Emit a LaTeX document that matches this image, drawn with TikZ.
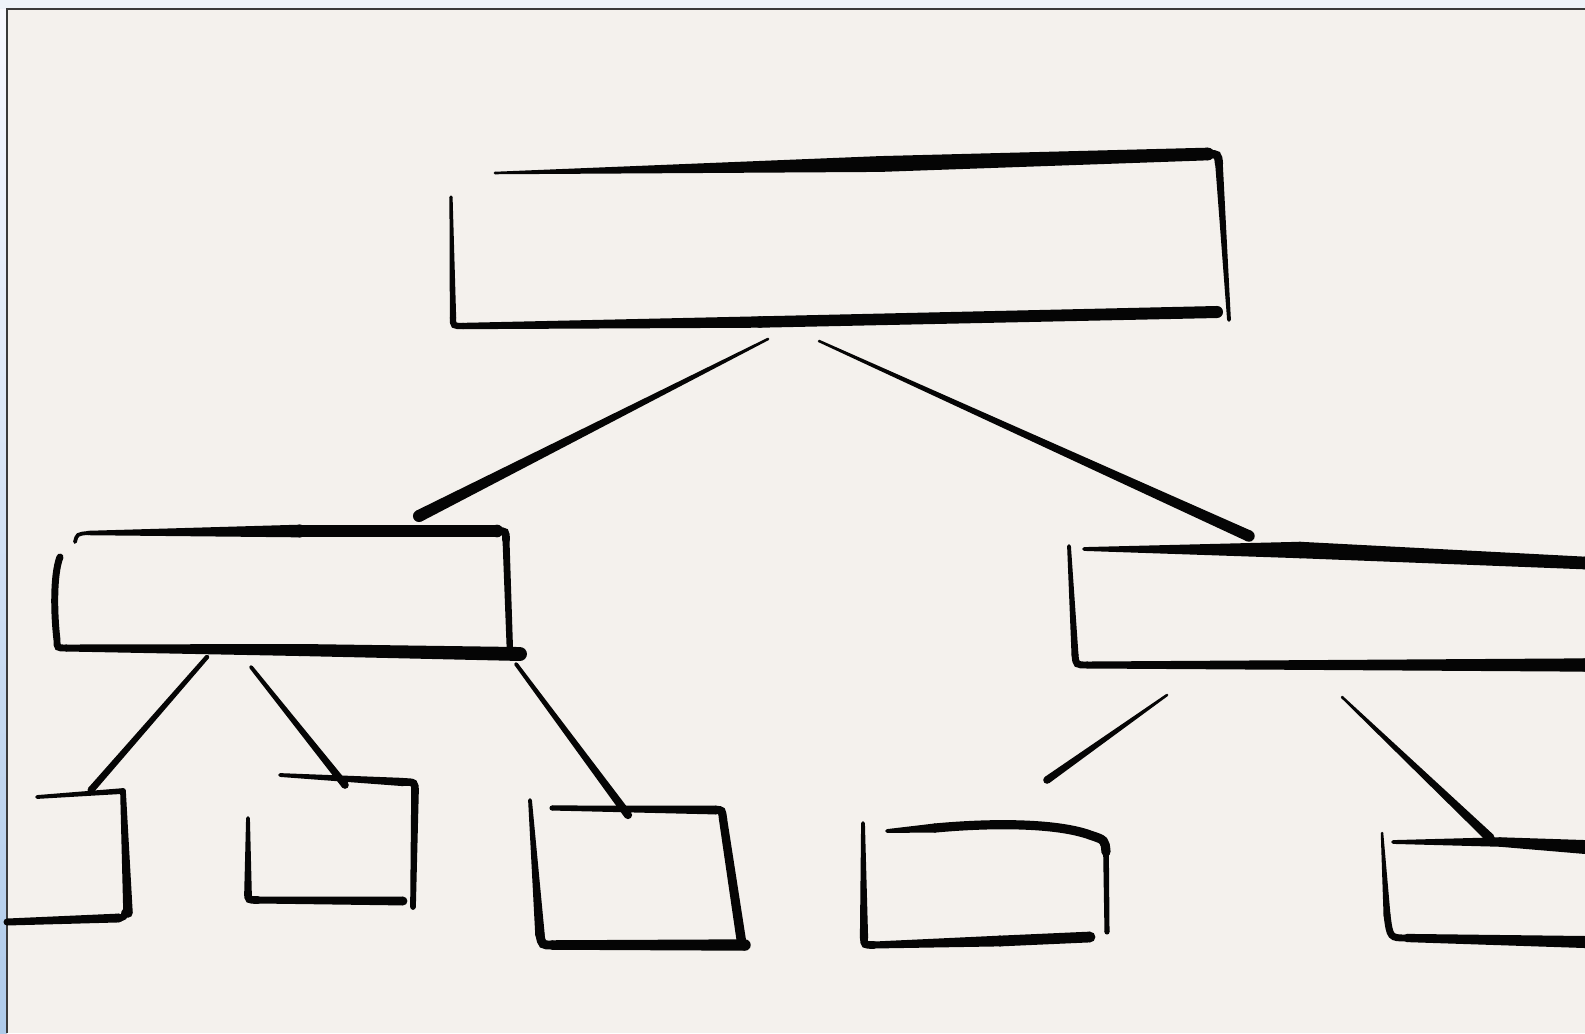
\documentclass[tikz,border=0pt]{standalone}
\usetikzlibrary{calc}
\definecolor{ink}{HTML}{050505}
\definecolor{paper}{HTML}{F4F1ED}
\definecolor{outer}{HTML}{EEF3F9}
\definecolor{framec}{HTML}{3A3A3A}
\def\ws{1.8}
\newcommand\stroke[4]{%
  \fill[ink] ($#1!\ws*#3!90:#2$) -- ($#2!\ws*#4!-90:#1$) -- ($#2!\ws*#4!90:#1$) -- ($#1!\ws*#3!-90:#2$) -- cycle;
  \fill[ink] #1 circle[radius=\ws*#3];
  \fill[ink] #2 circle[radius=\ws*#4];}
\tikzset{corner/.style={draw=ink, line width=\ws*#1, line cap=round}}
\begin{document}
\begin{tikzpicture}[x=0.01cm,y=-0.01cm]
\useasboundingbox (0,0) rectangle (1585,1033);
% background and frame
\fill[outer] (0,0) rectangle (1585,1033);
\shade[top color=outer!80!blue!10, bottom color={rgb,255:red,175;green,203;blue,234}] (0,9) rectangle (7,1033);
\fill[paper] (7,9) rectangle (1585,1033);
\draw[framec, line width=0.6pt] (7,1033) -- (7,9) -- (1585,9);

% ---------- top box ----------
\coordinate (t-tl) at (495,173);
\coordinate (t-tm) at (880,164);
\coordinate (t-tr) at (1208,154);
\coordinate (t-rc) at (1219,164);
\coordinate (t-rb) at (1229,320);
\coordinate (t-lt) at (451,197);
\coordinate (t-lb) at (453,318);
\coordinate (t-bl) at (463,326);
\coordinate (t-bm) at (760,322);
\coordinate (t-br) at (1217,312);
\stroke{(t-tl)}{(t-tm)}{0.2pt}{1.25pt}
\stroke{(t-tm)}{(t-tr)}{1.25pt}{1.0pt}
\draw[corner=1.3pt] (t-tr) .. controls (1218,154) .. (t-rc);
\stroke{(t-rc)}{(t-rb)}{0.6pt}{0.3pt}
\stroke{(t-lt)}{(t-lb)}{0.25pt}{0.5pt}
\draw[corner=1.0pt] (t-lb) .. controls (453,326) .. (t-bl);
\stroke{(t-bl)}{(t-bm)}{0.5pt}{0.9pt}
\stroke{(t-bm)}{(t-br)}{0.9pt}{0.95pt}

% ---------- connectors from top box ----------
\coordinate (t-c1) at (768,339);
\coordinate (l-c)  at (419,516);
\coordinate (t-c2) at (819,341);
\coordinate (r-c)  at (1249,536);
\stroke{(t-c1)}{(l-c)}{0.2pt}{0.95pt}
\stroke{(t-c2)}{(r-c)}{0.2pt}{0.9pt}

% ---------- left middle box ----------
\coordinate (l-h)  at (75,542);
\coordinate (l-tl) at (88,533);
\coordinate (l-tm) at (300,531);
\coordinate (l-tr) at (497,531);
\coordinate (l-rt) at (506,540);
\coordinate (l-rb) at (510,653);
\coordinate (l-lt) at (60,557);
\coordinate (l-lb) at (57,640);
\coordinate (l-bl) at (66,648);
\coordinate (l-bm) at (300,650);
\coordinate (l-br) at (520,654);
\draw[corner=0.6pt] (l-h) .. controls (77,534) .. (l-tl);
\stroke{(l-tl)}{(l-tm)}{0.35pt}{1.0pt}
\stroke{(l-tm)}{(l-tr)}{1.0pt}{1.0pt}
\draw[corner=1.2pt] (l-tr) .. controls (506,531) .. (l-rt);
\stroke{(l-rt)}{(l-rb)}{0.55pt}{0.5pt}
\draw[corner=1.1pt] (l-lt) .. controls (53,575) and (54,615) .. (l-lb) .. controls (57,648) .. (l-bl);
\stroke{(l-bl)}{(l-bm)}{0.55pt}{0.95pt}
\stroke{(l-bm)}{(l-br)}{0.95pt}{1.1pt}

% ---------- right middle box ----------
\coordinate (r-tl) at (1084,549);
\coordinate (r-tm) at (1300,550);
\coordinate (r-tr) at (1585,563);
\coordinate (r-lt) at (1069,546);
\coordinate (r-lb) at (1075,655);
\coordinate (r-bl) at (1087,665);
\coordinate (r-br) at (1585,665);
\stroke{(r-tl)}{(r-tm)}{0.3pt}{1.3pt}
\stroke{(r-tm)}{(r-tr)}{1.3pt}{1.0pt}
\stroke{(r-lt)}{(r-lb)}{0.3pt}{0.55pt}
\draw[corner=1.1pt] (r-lb) .. controls (1076,665) .. (r-bl);
\stroke{(r-bl)}{(r-br)}{0.55pt}{1.05pt}

% ---------- connectors from middle boxes ----------
\coordinate (l-c1) at (207,657);
\coordinate (b1-c) at (91,790);
\coordinate (l-c2) at (251,667);
\coordinate (b2-c) at (345,785);
\coordinate (l-c3) at (516,664);
\coordinate (b3-c) at (628,815);
\coordinate (r-c1) at (1167,695);
\coordinate (b4-c) at (1047,780);
\coordinate (r-c2) at (1342,697);
\coordinate (b5-c) at (1490,838);
\stroke{(l-c1)}{(b1-c)}{0.35pt}{0.55pt}
\stroke{(l-c2)}{(b2-c)}{0.3pt}{0.6pt}
\stroke{(l-c3)}{(b3-c)}{0.3pt}{0.65pt}
\stroke{(r-c1)}{(b4-c)}{0.2pt}{0.6pt}
\stroke{(r-c2)}{(b5-c)}{0.2pt}{0.75pt}

% ---------- bottom box 1 ----------
\coordinate (b1-tl) at (37,797);
\coordinate (b1-tr) at (123,791);
\coordinate (b1-rb) at (128,913);
\coordinate (b1-bl) at (7,922);
\coordinate (b1-br) at (119,918);
\coordinate (b1-bc) at (125,912);
\stroke{(b1-tl)}{(b1-tr)}{0.3pt}{0.45pt}
\stroke{(b1-tr)}{(b1-rb)}{0.45pt}{0.75pt}
\stroke{(b1-bl)}{(b1-br)}{0.55pt}{0.7pt}
\draw[corner=1.1pt] (b1-br) .. controls (124,917) .. (b1-bc);

% ---------- bottom box 2 ----------
\coordinate (b2-tl) at (280,775);
\coordinate (b2-tr) at (403,782);
\coordinate (b2-rt) at (415,792);
\coordinate (b2-rb) at (413,907);
\coordinate (b2-lt) at (248,818);
\coordinate (b2-lb) at (248,893);
\coordinate (b2-bl) at (258,900);
\coordinate (b2-br) at (403,901);
\stroke{(b2-tl)}{(b2-tr)}{0.3pt}{0.65pt}
\draw[corner=1.2pt] (b2-tr) .. controls (415,782) .. (b2-rt);
\stroke{(b2-rt)}{(b2-rb)}{0.6pt}{0.45pt}
\stroke{(b2-lt)}{(b2-lb)}{0.3pt}{0.6pt}
\draw[corner=1.2pt] (b2-lb) .. controls (248,900) .. (b2-bl);
\stroke{(b2-bl)}{(b2-br)}{0.55pt}{0.7pt}

% ---------- bottom box 3 ----------
\coordinate (b3-tl) at (552,808);
\coordinate (b3-tr) at (716,810);
\coordinate (b3-rt) at (723,819);
\coordinate (b3-rb) at (742,945);
\coordinate (b3-lt) at (530,800);
\coordinate (b3-lb) at (540,935);
\coordinate (b3-bl) at (552,945);
\coordinate (b3-br) at (745,945);
\stroke{(b3-tl)}{(b3-tr)}{0.4pt}{0.7pt}
\draw[corner=1.3pt] (b3-tr) .. controls (722,810) .. (b3-rt);
\stroke{(b3-rt)}{(b3-rb)}{0.65pt}{0.75pt}
\stroke{(b3-lt)}{(b3-lb)}{0.3pt}{0.75pt}
\draw[corner=1.4pt] (b3-lb) .. controls (542,945) .. (b3-bl);
\stroke{(b3-bl)}{(b3-br)}{0.75pt}{0.9pt}

% ---------- bottom box 4 ----------
\coordinate (b4-tl) at (887,831);
\coordinate (b4-tj) at (935,828);
\coordinate (b4-rt) at (1106,852);
\coordinate (b4-rb) at (1107,932);
\coordinate (b4-lt) at (863,823);
\coordinate (b4-lb) at (864,938);
\coordinate (b4-bl) at (874,945);
\coordinate (b4-bm) at (1000,941);
\coordinate (b4-br) at (1090,937);
\stroke{(b4-tl)}{(b4-tj)}{0.3pt}{0.72pt}
\draw[corner=1.45pt] (b4-tj) .. controls (1000,822) and (1060,824) .. (1090,835) .. controls (1105,840) .. (b4-rt);
\stroke{(b4-rt)}{(b4-rb)}{0.45pt}{0.4pt}
\stroke{(b4-lt)}{(b4-lb)}{0.3pt}{0.65pt}
\draw[corner=1.2pt] (b4-lb) .. controls (864,945) .. (b4-bl);
\stroke{(b4-bl)}{(b4-bm)}{0.55pt}{0.85pt}
\stroke{(b4-bm)}{(b4-br)}{0.85pt}{0.85pt}

% ---------- bottom box 5 ----------
\coordinate (b5-tl) at (1393,842);
\coordinate (b5-tm) at (1500,842);
\coordinate (b5-tr) at (1585,847);
\coordinate (b5-lt) at (1382,833);
\coordinate (b5-lb) at (1387,915);
\coordinate (b5-bl) at (1407,938);
\coordinate (b5-br) at (1585,942);
\stroke{(b5-tl)}{(b5-tm)}{0.3pt}{0.75pt}
\stroke{(b5-tm)}{(b5-tr)}{0.75pt}{1.1pt}
\stroke{(b5-lt)}{(b5-lb)}{0.2pt}{0.55pt}
\draw[corner=1.1pt] (b5-lb) .. controls (1390,938) .. (b5-bl);
\stroke{(b5-bl)}{(b5-br)}{0.65pt}{0.95pt}
\end{tikzpicture}
\end{document}
